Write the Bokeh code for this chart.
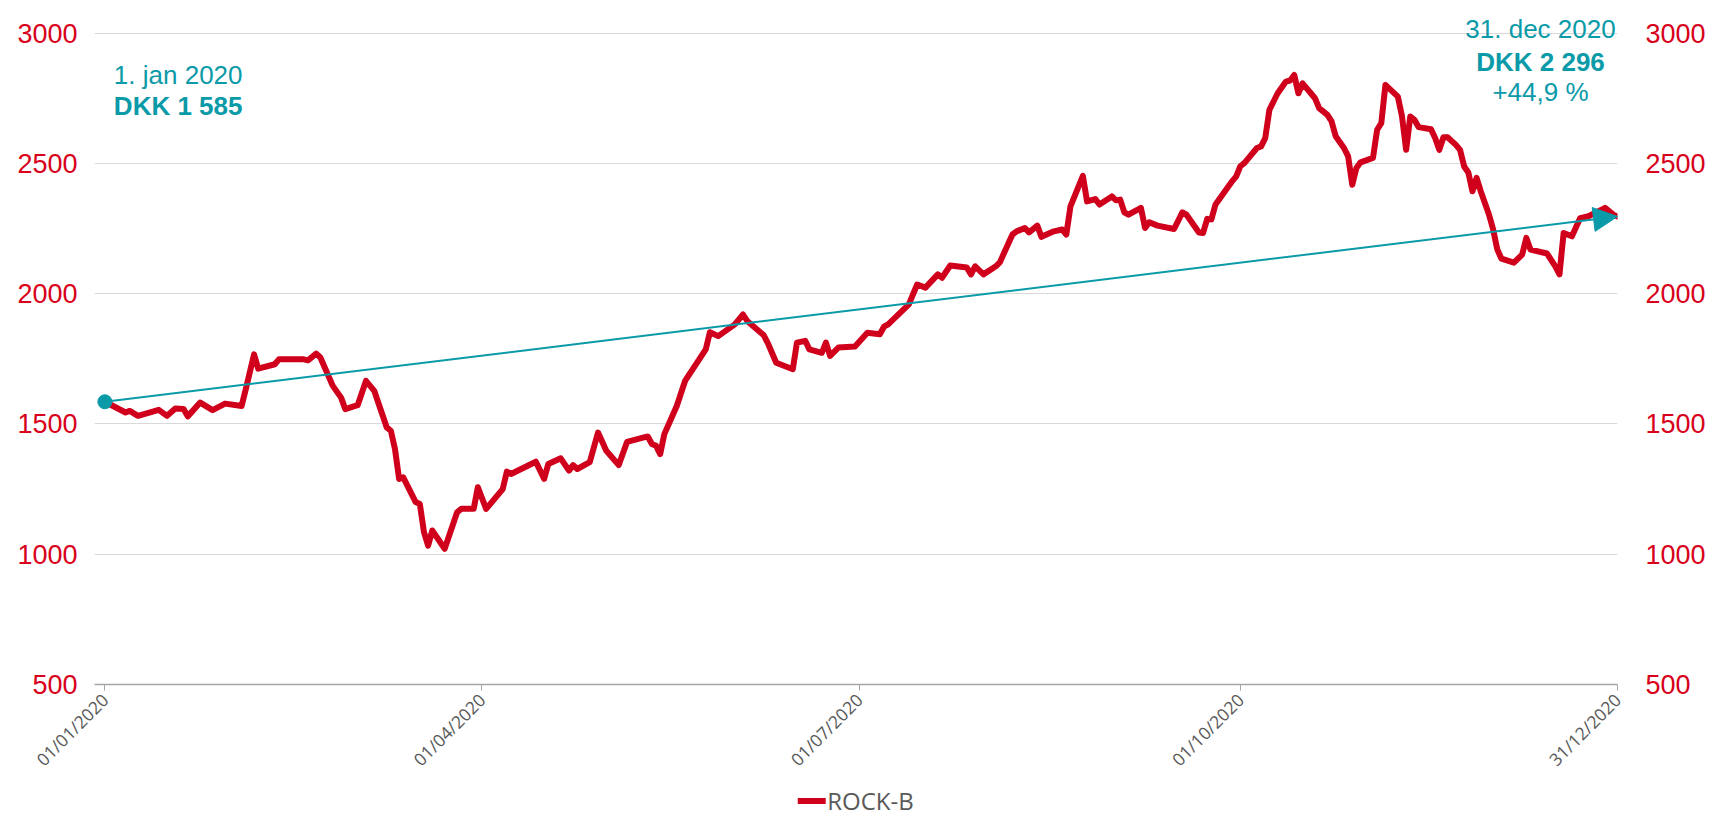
import math
import pandas as pd
from bokeh.plotting import figure
from bokeh.layouts import column
from bokeh.models import (Range1d, LinearAxis, FixedTicker, Legend, LegendItem,
                          Label, Arrow, NormalHead, ColumnDataSource)
from bokeh.embed import file_html
from bokeh.resources import INLINE

# ---------------- data ----------------
series_name = "ROCK-B"

days_since_jan1 = [
    0, 5, 6, 8, 13, 15, 17, 19, 20, 23,
    26, 29, 33, 34, 36, 37, 41, 42, 48, 49,
    51, 52, 55, 57, 58, 61, 63, 65, 68, 69,
    70, 71, 72, 75, 76, 77, 78, 79, 82, 85,
    86, 89, 90, 92, 96, 97, 98, 104, 106, 107,
    110, 112, 113, 114, 117, 119, 121, 124, 126, 131,
    132, 133, 134, 135, 138, 140, 145, 146, 148, 152,
    154, 155, 159, 160, 162, 166, 167, 169, 170, 173,
    174, 175, 177, 181, 184, 187, 188, 189, 194, 196,
    198, 201, 202, 204, 208, 209, 210, 212, 215, 216,
    217, 219, 220, 222, 223, 225, 226, 229, 231, 232,
    233, 236, 237, 239, 240, 243, 244, 245, 246, 247,
    250, 251, 252, 254, 258, 260, 261, 264, 265, 266,
    267, 268, 272, 273, 274, 275, 278, 279, 280, 281,
    283, 285, 286, 287, 288, 289, 291, 292, 293, 295,
    296, 297, 299, 300, 301, 302, 303, 306, 307, 308,
    309, 312, 313, 314, 315, 316, 317, 320, 321, 322,
    323, 324, 326, 327, 328, 329, 330, 331, 332, 334,
    335, 336, 337, 340, 342, 343, 344, 348, 350, 351,
    352, 354, 356, 358, 362, 364, 365,
]

price_dkk = [
    1585, 1544, 1550, 1531, 1554, 1531, 1559, 1557, 1529, 1582,
    1553, 1578, 1569, 1633, 1767, 1712, 1729, 1748, 1748, 1744,
    1770, 1755, 1646, 1601, 1557, 1572, 1665, 1627, 1487, 1474,
    1404, 1289, 1295, 1200, 1193, 1085, 1033, 1091, 1021, 1161,
    1174, 1174, 1257, 1174, 1250, 1317, 1308, 1355, 1289, 1346,
    1368, 1321, 1342, 1327, 1353, 1467, 1397, 1342, 1431, 1452,
    1423, 1416, 1384, 1461, 1569, 1665, 1786, 1852, 1837, 1882,
    1920, 1895, 1840, 1809, 1735, 1710, 1812, 1819, 1786, 1773,
    1812, 1761, 1793, 1797, 1850, 1844, 1873, 1882, 1959, 2035,
    2023, 2074, 2061, 2108, 2100, 2074, 2105, 2074, 2105, 2121,
    2157, 2227, 2239, 2252, 2235, 2261, 2218, 2239, 2246, 2227,
    2335, 2452, 2354, 2363, 2342, 2373, 2358, 2361, 2312, 2303,
    2329, 2252, 2274, 2261, 2248, 2312, 2303, 2235, 2233, 2287,
    2285, 2342, 2431, 2450, 2489, 2502, 2559, 2565, 2597, 2705,
    2769, 2814, 2818, 2839, 2769, 2807, 2769, 2750, 2712, 2686,
    2661, 2604, 2559, 2527, 2418, 2482, 2504, 2521, 2629, 2654,
    2801, 2756, 2680, 2552, 2680, 2667, 2639, 2631, 2597, 2552,
    2600, 2600, 2571, 2552, 2488, 2465, 2393, 2444, 2393, 2303,
    2246, 2169, 2134, 2119, 2150, 2214, 2169, 2154, 2105, 2074,
    2233, 2220, 2290, 2297, 2329, 2303, 2296,
]

tick_dates = ["2020-01-01", "2020-04-01", "2020-07-01", "2020-10-01", "2020-12-31"]
tick_labels = ["01/01/2020", "01/04/2020", "01/07/2020", "01/10/2020", "31/12/2020"]
y_ticks = [500, 1000, 1500, 2000, 2500, 3000]

start_date_text = "1. jan 2020"
start_price_text = "DKK 1 585"
end_date_text = "31. dec 2020"
end_price_text = "DKK 2 296"
change_text = "+44,9 %"

# ---------------- styling ----------------
RED = "#D0001C"
RED_TXT = "#D8001A"
TEAL = "#0A9AA8"
GREY = "#595959"
GRID = "#D9D9D9"
AXIS = "#A6A6A6"

base = pd.Timestamp("2020-01-01")
dates = base + pd.to_timedelta(days_since_jan1, unit="D")
src = ColumnDataSource(dict(date=dates, price=price_dkk))


def ms(ts):
    return pd.Timestamp(ts).value / 1e6


x_start = base - pd.Timedelta(hours=60)
x_end = pd.Timestamp(tick_dates[-1])

W = 1714
LEG_H = 36
MAIN_H = 818 - LEG_H

p = figure(width=W, height=MAIN_H, x_axis_type="datetime",
           x_range=Range1d(x_start, x_end), y_range=Range1d(500, 3125),
           output_backend="svg", toolbar_location=None,
           min_border_left=94, min_border_right=97, min_border_top=0,
           min_border_bottom=MAIN_H - 687)
p.outline_line_color = None
p.background_fill_color = "white"
p.border_fill_color = "white"

# grid
p.xgrid.grid_line_color = None
p.ygrid.ticker = FixedTicker(ticks=y_ticks)
p.ygrid.grid_line_color = GRID
p.ygrid.grid_line_width = 1

# x axis
xa = p.xaxis[0]
xa.ticker = FixedTicker(ticks=[ms(d) for d in tick_dates])
xa.major_label_overrides = {ms(d): lab for d, lab in zip(tick_dates, tick_labels)}
xa.major_label_orientation = math.pi / 4
xa.major_label_text_font = "Open Sans"
xa.major_label_text_font_size = "17.5px"
xa.major_label_text_color = GREY
xa.axis_line_color = AXIS
xa.axis_line_width = 1.5
xa.major_tick_line_color = AXIS
xa.major_tick_out = 6
xa.major_tick_in = 0
xa.minor_tick_line_color = None
xa.major_label_standoff = 6

# y axes (left + right)
ya_left = p.yaxis[0]
ya_right = LinearAxis(ticker=FixedTicker(ticks=y_ticks))
p.add_layout(ya_right, "right")
for ax, standoff in ((ya_left, 17), (ya_right, 28)):
    ax.ticker = FixedTicker(ticks=y_ticks)
    ax.axis_line_color = None
    ax.major_tick_line_color = None
    ax.minor_tick_line_color = None
    ax.major_tick_out = 0
    ax.major_tick_in = 0
    ax.major_label_text_color = RED_TXT
    ax.major_label_text_font = "Liberation Sans"
    ax.major_label_text_font_size = "27px"
    ax.major_label_standoff = standoff

# price line
line_style = dict(line_color=RED, line_width=6, line_join="round", line_cap="round")
p.line("date", "price", source=src, **line_style)

# trend arrow from first to last value
x0 = ms(dates[0])
x1 = ms(dates[-1])
p.add_layout(Arrow(end=NormalHead(size=24, fill_color=TEAL, line_color=TEAL),
                   x_start=x0, y_start=price_dkk[0], x_end=x1, y_end=price_dkk[-1],
                   line_color=TEAL, line_width=2))
p.scatter(x=[dates[0]], y=[price_dkk[0]], size=14, color=TEAL)


# annotations
def note(x, y, dx, text, align, bold=False):
    p.add_layout(Label(x=x, y=y, x_offset=dx, text=text,
                       text_font="Liberation Sans", text_font_size="26px",
                       text_font_style="bold" if bold else "normal",
                       text_color=TEAL, text_align=align,
                       text_baseline="alphabetic"))


note(x0, 2838, 9, start_date_text, "left")
note(x0, 2719, 9, start_price_text, "left", bold=True)
note(x1, 3014, -77, end_date_text, "center")
note(x1, 2889, -77, end_price_text, "center", bold=True)
note(x1, 2775, -77, change_text, "center")

# legend strip below the chart (its line renderer lies outside the visible range,
# it only provides the legend swatch)
pl = figure(width=W, height=LEG_H, x_range=Range1d(0, 1), y_range=Range1d(0, 1),
            output_backend="svg", toolbar_location=None,
            min_border_left=0, min_border_right=0, min_border_top=0,
            min_border_bottom=0)
pl.axis.visible = False
pl.grid.visible = False
pl.outline_line_color = None
leg_line = pl.line(x=[-2, -1], y=[-2, -1], **line_style)
legend = Legend(items=[LegendItem(label=series_name, renderers=[leg_line])],
                orientation="horizontal", location="center",
                border_line_color=None, background_fill_alpha=0,
                label_text_font="Open Sans", label_text_font_size="24px",
                label_text_color=GREY, glyph_width=28, glyph_height=30,
                label_height=30, label_standoff=2, padding=0, margin=0, spacing=0)
pl.add_layout(legend, "center")

open("out.html", "w").write(file_html(column(p, pl, spacing=0), INLINE))
